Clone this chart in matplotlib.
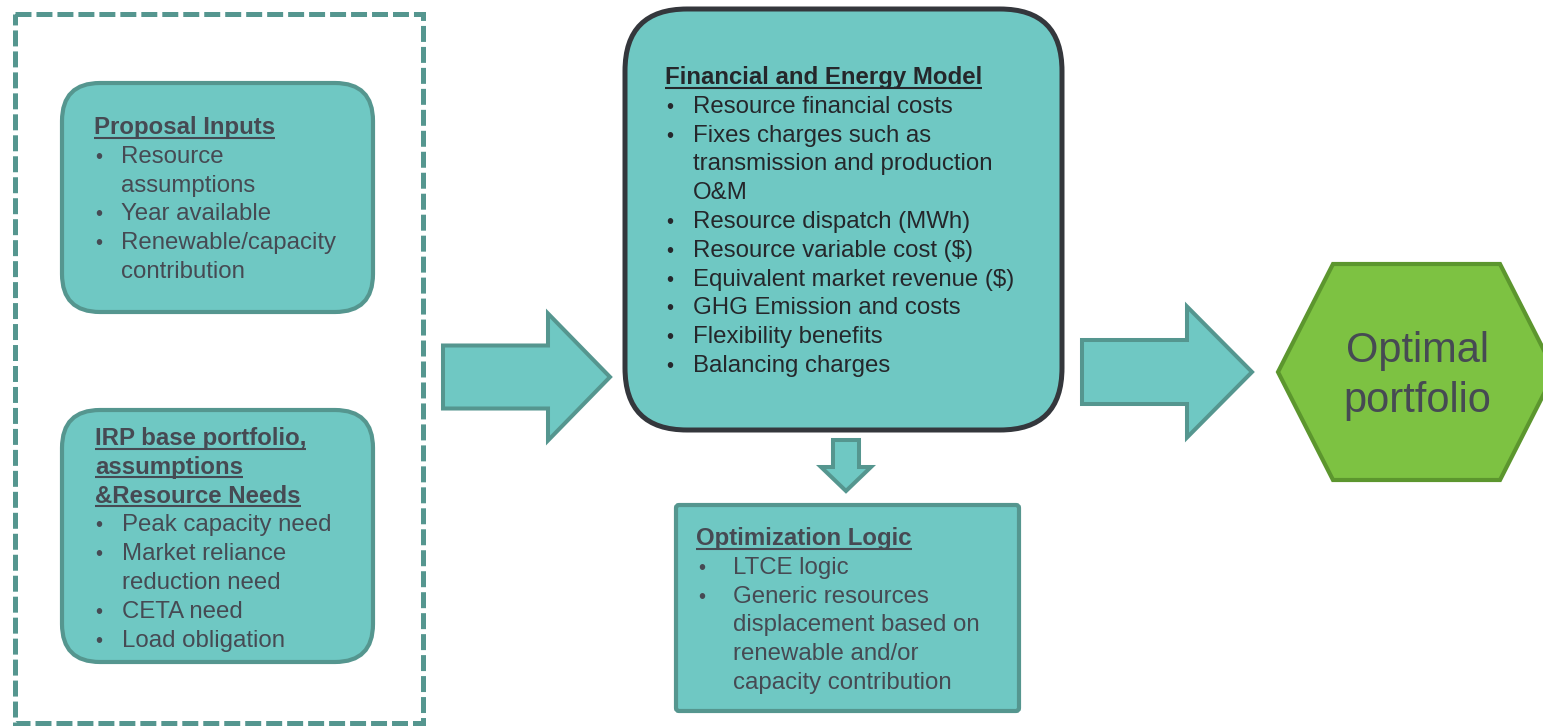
import matplotlib
matplotlib.use("Agg")
import matplotlib.pyplot as plt
from matplotlib.patches import FancyBboxPatch, Rectangle, Polygon

plt.rcParams["font.family"] = ["Liberation Sans", "DejaVu Sans"]
plt.rcParams["lines.scale_dashes"] = False

W, H = 1543, 726

# text content
proposal_title = ["Proposal Inputs"]
proposal_items = [["Resource", "assumptions"], ["Year available"],
                  ["Renewable/capacity", "contribution"]]
irp_title = ["IRP base portfolio,", "assumptions", "&Resource Needs"]
irp_items = [["Peak capacity need"], ["Market reliance", "reduction need"],
             ["CETA need"], ["Load obligation"]]
model_title = ["Financial and Energy Model"]
model_items = [["Resource financial costs"],
               ["Fixes charges such as", "transmission and production", "O&M"],
               ["Resource dispatch (MWh)"], ["Resource variable cost ($)"],
               ["Equivalent market revenue ($)"], ["GHG Emission and costs"],
               ["Flexibility benefits"], ["Balancing charges"]]
opt_title = ["Optimization Logic"]
opt_items = [["LTCE logic"],
             ["Generic resources", "displacement based on",
              "renewable and/or", "capacity contribution"]]
result_label = ["Optimal", "portfolio"]

TEAL = "#6fc8c3"
TEAL_EDGE = "#55968f"
DARK_EDGE = "#34373c"
GREEN = "#7dc242"
GREEN_EDGE = "#5c962e"
GREY_TXT = "#464a53"
DARK_TXT = "#25272b"
FS = 17.3
LINE = 28.8

fig = plt.figure(figsize=(W / 100, H / 100), dpi=100)
ax = fig.add_axes([0, 0, 1, 1])
ax.set_xlim(0, W)
ax.set_ylim(H, 0)
ax.axis("off")


def rbox(x0, y0, x1, y1, r, edge, lw=3.0):
    p = FancyBboxPatch((x0, y0), x1 - x0, y1 - y0,
                       boxstyle=f"round,pad=0,rounding_size={r}",
                       fc=TEAL, ec=edge, lw=lw, zorder=2)
    ax.add_patch(p)


def right_arrow(x0, x1, xh, yc, shaft_h, head_h):
    pts = [(x0, yc - shaft_h / 2), (xh, yc - shaft_h / 2), (xh, yc - head_h / 2),
           (x1, yc), (xh, yc + head_h / 2), (xh, yc + shaft_h / 2),
           (x0, yc + shaft_h / 2)]
    ax.add_patch(Polygon(pts, closed=True, fc=TEAL, ec=TEAL_EDGE, lw=2.9,
                         joinstyle="miter", zorder=2))


def down_arrow(xc, y0, y1, yh, shaft_w, head_w):
    pts = [(xc - shaft_w / 2, y0), (xc + shaft_w / 2, y0), (xc + shaft_w / 2, yh),
           (xc + head_w / 2, yh), (xc, y1), (xc - head_w / 2, yh),
           (xc - shaft_w / 2, yh)]
    ax.add_patch(Polygon(pts, closed=True, fc=TEAL, ec=TEAL_EDGE, lw=2.9,
                         joinstyle="miter", zorder=2))


underlines = []


def block(x_head, x_bullet, x_text, y_base, title, items, color):
    y = y_base
    for t in title:
        txt = ax.text(x_head, y, t, fontsize=FS, fontweight="bold", color=color,
                      va="baseline", ha="left", zorder=5)
        underlines.append((txt, y, color))
        y += LINE
    for item in items:
        ax.text(x_bullet, y, "•", fontsize=FS * 0.85, color=color,
                va="baseline", ha="left", zorder=5)
        for part in item:
            ax.text(x_text, y, part, fontsize=FS, color=color,
                    va="baseline", ha="left", zorder=5)
            y += LINE


# dashed grouping frame
ax.add_patch(Rectangle((15, 14), 408, 709, fill=False, ec=TEAL_EDGE, lw=3.6,
                       linestyle=(0, (11.5, 3.6)), zorder=1))

# boxes
rbox(62, 83, 373, 312, 38, TEAL_EDGE)
rbox(62, 410, 373, 662, 38, TEAL_EDGE)
rbox(625, 9, 1062, 430, 62, DARK_EDGE, lw=3.6)
rbox(676, 505, 1019, 711, 3, TEAL_EDGE)

# arrows
right_arrow(443, 610, 548, 377, 63, 127)
down_arrow(846, 440, 491, 467, 26, 50)
right_arrow(1082, 1252, 1187, 372, 64, 131)

# result hexagon
hexagon = [(1278, 372), (1333, 264), (1500, 264), (1555, 372), (1500, 480), (1333, 480)]
ax.add_patch(Polygon(hexagon, closed=True, fc=GREEN, ec=GREEN_EDGE, lw=3,
                     joinstyle="miter", zorder=2))
for i, s in enumerate(result_label):
    ax.text(1417, 362 + 50 * i, s, fontsize=30, color=GREY_TXT,
            ha="center", va="baseline", zorder=5)

# text blocks
block(94, 95, 121, 134, proposal_title, proposal_items, GREY_TXT)
block(95, 95, 122, 445, irp_title, irp_items, GREY_TXT)
block(665, 666, 693, 84, model_title, model_items, DARK_TXT)
block(696, 698, 733, 545, opt_title, opt_items, GREY_TXT)

# underline the headings
fig.canvas.draw()
renderer = fig.canvas.get_renderer()
inv = ax.transData.inverted()
for txt, y, color in underlines:
    bb = txt.get_window_extent(renderer)
    (xa, _), (xb, _) = inv.transform([(bb.x0, bb.y0), (bb.x1, bb.y0)])
    ax.plot([xa, xb], [y + 3.5, y + 3.5], color=color, lw=1.5, zorder=5,
            solid_capstyle="butt")

fig.savefig("out.png", dpi=100, facecolor="white")
plt.close(fig)
